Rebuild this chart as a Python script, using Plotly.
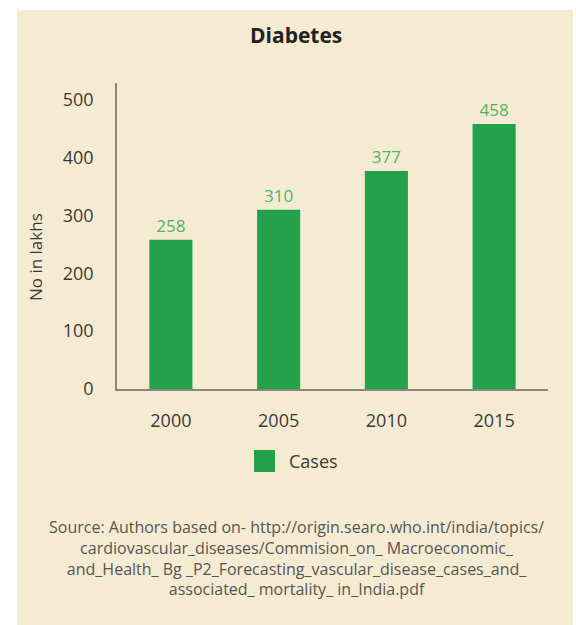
import plotly.graph_objects as go

years = ["2000", "2005", "2010", "2015"]
cases = [258, 310, 377, 458]
y_ticks = [0, 100, 200, 300, 400, 500]
series_name = "Cases"
title_text = "Diabetes"
y_title = "No in lakhs"
source_lines = [
    "Source: Authors based on- http://origin.searo.who.int/india/topics/",
    "cardiovascular_diseases/Commision_on_ Macroeconomic_",
    "and_Health_ Bg _P2_Forecasting_vascular_disease_cases_and_",
    "associated_ mortality_ in_India.pdf",
]

W, H = 576, 625
L, R, T, B = 117, 548, 83, 389  # plot area in pixels
BEIGE = "#F5EBD2"
GREEN = "#23A24B"
LABEL_GREEN = "#4DB36A"
TXT = "#3a3a3a"
FONT = "Open Sans"


def px_x(x):
    return (x - L) / (R - L)


def px_y(y):
    return (B - y) / (B - T)


fig = go.Figure()
fig.add_trace(go.Bar(
    x=years, y=cases, name=series_name,
    marker=dict(color=GREEN, line=dict(width=0)),
    width=0.4,
    text=[str(v) for v in cases], textposition="outside",
    textfont=dict(family=FONT, size=17, color=LABEL_GREEN),
    cliponaxis=False, showlegend=False, hoverinfo="skip",
))

shapes = [
    dict(type="rect", xref="paper", yref="paper", layer="below",
         x0=px_x(17), x1=px_x(573), y0=px_y(626), y1=px_y(10),
         fillcolor=BEIGE, line=dict(width=0)),
    # legend swatch
    dict(type="rect", xref="paper", yref="paper",
         x0=px_x(254), x1=px_x(275), y0=px_y(472), y1=px_y(450),
         fillcolor=GREEN, line=dict(width=0)),
]

annotations = [
    dict(text=f"<b>{title_text}</b>", xref="paper", yref="paper",
         x=px_x(296), y=px_y(35), showarrow=False, xanchor="center", yanchor="middle",
         font=dict(family=FONT, size=21, color="#222222")),
    dict(text=y_title, xref="paper", yref="paper", textangle=-90,
         x=px_x(35), y=px_y(257), showarrow=False, xanchor="center", yanchor="middle",
         font=dict(family=FONT, size=17, color=TXT)),
    dict(text=series_name, xref="paper", yref="paper",
         x=px_x(287), y=px_y(461), showarrow=False, xanchor="left", yanchor="middle",
         font=dict(family=FONT, size=18, color=TXT)),
    dict(text="<br>".join(source_lines), xref="paper", yref="paper",
         x=px_x(296), y=px_y(514), showarrow=False, xanchor="center", yanchor="top",
         align="center",
         font=dict(family=FONT, size=16, color="#555555")),
]

fig.update_layout(
    width=W, height=H,
    margin=dict(l=L, r=W - R, t=T, b=H - B, pad=0),
    paper_bgcolor="white",
    plot_bgcolor="rgba(0,0,0,0)",
    shapes=shapes,
    annotations=annotations,
    showlegend=False,
    bargap=0.6,
    hovermode=False,
    xaxis=dict(
        range=[-0.5, 3.5], showgrid=False, zeroline=False,
        showline=True, linecolor="#8c8578", linewidth=1.5,
        ticks="outside", ticklen=15, tickcolor="rgba(0,0,0,0)",
        tickfont=dict(family=FONT, size=18, color=TXT),
    ),
    yaxis=dict(
        range=[0, 529], tickvals=y_ticks, showgrid=False, zeroline=False,
        showline=True, linecolor="#8c8578", linewidth=1.5,
        ticks="outside", ticklen=18, tickcolor="rgba(0,0,0,0)",
        tickfont=dict(family=FONT, size=18, color=TXT),
    ),
)

fig.write_html(
    "out.html",
    config={"displayModeBar": False},
    post_script="document.body.style.margin='0';document.body.style.overflow='hidden';",
)
